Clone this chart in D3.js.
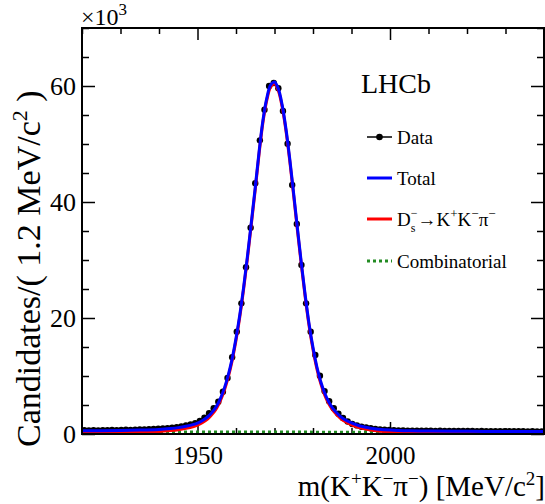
<!DOCTYPE html>
<html>
<head>
<meta charset="utf-8">
<script src="https://cdn.jsdelivr.net/npm/d3@7"></script>
<style>
body { margin: 0; background: #fff; }
text { font-family: "Liberation Serif", "Times New Roman", serif; fill: #000; }
</style>
</head>
<body>
<div id="chart"></div>
<script>
// 100 bins of 1.2 MeV between 1920 and 2040
const binLow = 1920;
const binWidth = 1.2;
const counts = [
  640, 610, 650, 630, 660, 650, 680, 670, 700, 720,
  710, 750, 770, 800, 830, 870, 900, 940, 1010, 1090,
  1190, 1320, 1480, 1640, 1850, 2240, 2810, 3570, 4430, 5570,
  7290, 9650, 13220, 17640, 22530, 28740, 35570, 43220, 50630, 55910,
  60000, 60510, 59600, 55690, 50050, 42930, 36200, 29140, 22530, 17640,
  13620, 10050, 7400, 5650, 4450, 3500, 2750, 2150, 1720, 1480,
  1250, 1110, 980, 880, 800, 740, 690, 650, 630, 600,
  590, 570, 580, 560, 550, 560, 540, 550, 530, 540,
  520, 530, 520, 510, 520, 500, 510, 500, 490, 500,
  480, 490, 480, 470, 480, 470, 460, 470, 460, 450
];

// fit curves
const fitMass = [1920, 1925, 1930, 1935, 1940, 1943, 1945, 1947, 1949, 1950,
  1951, 1952, 1953, 1954, 1955, 1956, 1957, 1958, 1959, 1960,
  1961, 1962, 1963, 1964, 1965, 1966, 1967, 1968, 1969, 1970,
  1971, 1972, 1973, 1974, 1975, 1976, 1977, 1978, 1979, 1980,
  1981, 1982, 1983, 1984, 1985, 1986, 1987, 1988, 1990, 1992,
  1995, 2000, 2005, 2010, 2020, 2030, 2040];
const fitTotal = [560, 580, 610, 670, 790, 950, 1100, 1330, 1650, 1880,
  2200, 2620, 3170, 3900, 4850, 6200, 7950, 10200, 13000, 16500,
  20600, 25400, 30800, 36600, 42500, 48700, 54100, 57900, 60200, 60700,
  59500, 56700, 52500, 47200, 41300, 35200, 29300, 23800, 18900, 14900,
  11600, 9050, 7100, 5650, 4550, 3750, 3100, 2600, 1900, 1420,
  1000, 680, 540, 500, 460, 430, 410];
const fitSignal = [170, 195, 230, 300, 420, 585, 740, 970, 1295, 1525,
  1845, 2265, 2815, 3550, 4500, 5850, 7600, 9855, 12655, 16155,
  20256, 25057, 30458, 36260, 42161, 48362, 53763, 57564, 59865, 60366,
  59167, 56369, 52170, 46871, 40972, 34873, 28974, 23475, 18576, 14578,
  11279, 8730, 6781, 5332, 4233, 3434, 2785, 2287, 1589, 1111,
  694, 380, 246, 211, 183, 164, 155];
const combMass = [1920, 1960, 2000, 2040];
const combVals = [390, 345, 300, 255];

const xMajor = [1950, 2000];
const yMajor = [0, 20000, 40000, 60000];

const green = "#228b22";

const W = 545, H = 504;
const margin = {top: 28, right: 1, bottom: 70, left: 82};
const width = W - margin.left - margin.right;
const height = H - margin.top - margin.bottom;

const svg = d3.select("#chart")
    .append("svg")
    .attr("width", W)
    .attr("height", H);

const g = svg.append("g")
    .attr("transform", `translate(${margin.left},${margin.top})`);

const x = d3.scaleLinear().domain([1920, 2040]).range([0, width]);
const y = d3.scaleLinear().domain([0, 70000]).range([height, 0]);

// ticks, all pointing inward
const xMinor = d3.range(1920, 2041, 10).filter(v => !xMajor.includes(v));
const yMinor = d3.range(0, 70001, 5000).filter(v => !yMajor.includes(v));

function styleAxis(sel) {
    sel.select(".domain").remove();
    sel.attr("font-family", null).attr("font-size", null);
    sel.selectAll("line").attr("stroke", "#000").attr("stroke-width", 1.5);
    sel.selectAll("text").style("font-size", "25px");
}

g.append("g").attr("transform", `translate(0,${height})`)
    .call(d3.axisBottom(x).tickValues(xMajor).tickSizeInner(-12).tickSizeOuter(0).tickPadding(12).tickFormat(d3.format("d")))
    .call(styleAxis);
g.append("g").attr("transform", `translate(0,${height})`)
    .call(d3.axisBottom(x).tickValues(xMinor).tickSize(-6).tickFormat(""))
    .call(styleAxis);
g.append("g")
    .call(d3.axisTop(x).tickValues(xMajor).tickSize(-12).tickFormat(""))
    .call(styleAxis);
g.append("g")
    .call(d3.axisTop(x).tickValues(xMinor).tickSize(-6).tickFormat(""))
    .call(styleAxis);

g.append("g")
    .call(d3.axisLeft(y).tickValues(yMajor).tickSizeInner(-13).tickSizeOuter(0).tickPadding(6).tickFormat(d => d / 1000))
    .call(styleAxis)
    .call(s => s.selectAll("text").style("font-size", "26px"));
g.append("g")
    .call(d3.axisLeft(y).tickValues(yMinor).tickSize(-7).tickFormat(""))
    .call(styleAxis);
g.append("g").attr("transform", `translate(${width},0)`)
    .call(d3.axisRight(y).tickValues(yMajor).tickSize(-13).tickFormat(""))
    .call(styleAxis);
g.append("g").attr("transform", `translate(${width},0)`)
    .call(d3.axisRight(y).tickValues(yMinor).tickSize(-7).tickFormat(""))
    .call(styleAxis);

// data points
const binCenter = i => binLow + (i + 0.5) * binWidth;
g.append("g").selectAll("circle")
    .data(counts)
    .join("circle")
    .attr("cx", (d, i) => x(binCenter(i)))
    .attr("cy", d => y(d))
    .attr("r", 3.2)
    .attr("fill", "#000");

const fitLine = vals => d3.line()
    .x((d, i) => x(fitMass[i]))
    .y(d => y(d))
    .curve(d3.curveCatmullRom)(vals);

g.append("path")
    .datum(combVals)
    .attr("fill", "none")
    .attr("stroke", green)
    .attr("stroke-width", 3)
    .attr("stroke-dasharray", "3,3")
    .attr("d", d3.line().x((d, i) => x(combMass[i])).y(d => y(d)));

g.append("path")
    .attr("fill", "none")
    .attr("stroke", "#ff0000")
    .attr("stroke-width", 3)
    .attr("d", fitLine(fitSignal));

g.append("path")
    .attr("fill", "none")
    .attr("stroke", "#0000ff")
    .attr("stroke-width", 3)
    .attr("d", fitLine(fitTotal));

// frame
g.append("rect")
    .attr("width", width)
    .attr("height", height)
    .attr("fill", "none")
    .attr("stroke", "#000")
    .attr("stroke-width", 2);

// exponent label
const expo = svg.append("text").attr("x", 81).attr("y", 25).style("font-size", "24px");
expo.append("tspan").text("×10");
expo.append("tspan").attr("dy", -10).style("font-size", "17px").text("3");

// axis titles
const xt = svg.append("text")
    .attr("x", 545).attr("y", 496)
    .attr("text-anchor", "end")
    .style("font-size", "29px");
xt.append("tspan").text("m(K");
xt.append("tspan").attr("dy", -11).style("font-size", "19px").text("+");
xt.append("tspan").attr("dy", 11).text("K");
xt.append("tspan").attr("dy", -11).style("font-size", "19px").text("−");
xt.append("tspan").attr("dy", 11).text("π");
xt.append("tspan").attr("dy", -11).style("font-size", "19px").text("−");
xt.append("tspan").attr("dy", 11).text(") [MeV/c");
xt.append("tspan").attr("dy", -11).style("font-size", "19px").text("2");
xt.append("tspan").attr("dy", 11).text("]");

const yt = svg.append("text")
    .attr("transform", "translate(40,447) rotate(-90)")
    .style("font-size", "34px");
yt.append("tspan").text("Candidates/( 1.2 MeV/c");
yt.append("tspan").attr("dy", -13).style("font-size", "22px").text("2");
yt.append("tspan").attr("dy", 13).text(" )");

// LHCb label and legend
svg.append("text").attr("x", 361).attr("y", 93).style("font-size", "28px").text("LHCb");

const legendX = 367, legendLen = 25, textX = 397;
const rows = [137, 178, 219, 261];

svg.append("line").attr("x1", legendX).attr("x2", legendX + legendLen)
    .attr("y1", rows[0]).attr("y2", rows[0]).attr("stroke", "#000").attr("stroke-width", 1.5);
svg.append("circle").attr("cx", legendX + legendLen / 2).attr("cy", rows[0]).attr("r", 3.3).attr("fill", "#000");
svg.append("text").attr("x", textX).attr("y", rows[0] + 7).style("font-size", "19px").text("Data");

svg.append("line").attr("x1", legendX).attr("x2", legendX + legendLen)
    .attr("y1", rows[1]).attr("y2", rows[1]).attr("stroke", "#0000ff").attr("stroke-width", 3);
svg.append("text").attr("x", textX).attr("y", rows[1] + 7).style("font-size", "19px").text("Total");

svg.append("line").attr("x1", legendX).attr("x2", legendX + legendLen)
    .attr("y1", rows[2]).attr("y2", rows[2]).attr("stroke", "#ff0000").attr("stroke-width", 3);
const ds = svg.append("text").attr("x", textX).attr("y", rows[2] + 7).style("font-size", "19px");
ds.append("tspan").text("D");
ds.append("tspan").attr("dy", -9).style("font-size", "12px").text("−");
ds.append("tspan").attr("dx", -6.8).attr("dy", 15).style("font-size", "12px").text("s");
ds.append("tspan").attr("dx", 2.1).attr("dy", -6).text("→K");
ds.append("tspan").attr("dy", -8).style("font-size", "13px").text("+");
ds.append("tspan").attr("dy", 8).text("K");
ds.append("tspan").attr("dy", -8).style("font-size", "13px").text("−");
ds.append("tspan").attr("dy", 8).text("π");
ds.append("tspan").attr("dy", -8).style("font-size", "13px").text("−");

svg.append("line").attr("x1", legendX).attr("x2", legendX + legendLen)
    .attr("y1", rows[3]).attr("y2", rows[3]).attr("stroke", green).attr("stroke-width", 3)
    .attr("stroke-dasharray", "3,3");
svg.append("text").attr("x", textX).attr("y", rows[3] + 7).style("font-size", "19px").text("Combinatorial");
</script>
</body>
</html>
